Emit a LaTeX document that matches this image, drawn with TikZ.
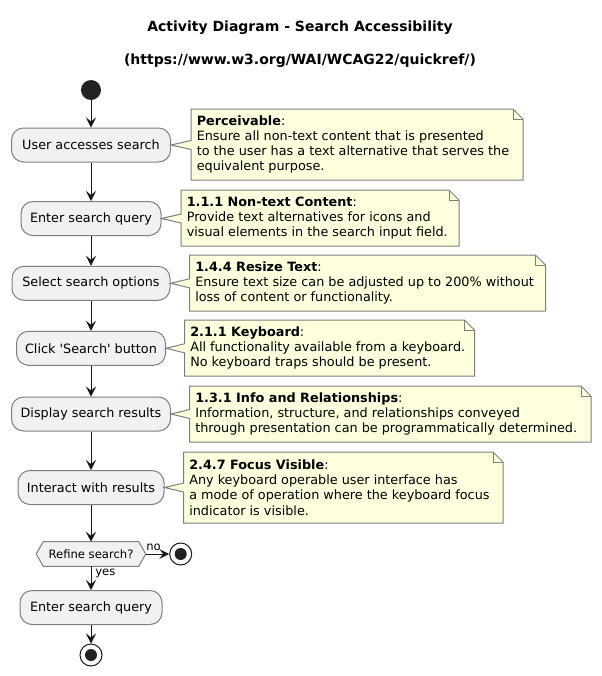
\documentclass[tikz,border=0pt]{standalone}
\usepackage{fontspec}
\setmainfont{DejaVu Sans}
\usetikzlibrary{arrows.meta,calc}
\definecolor{actfill}{HTML}{F1F1F1}
\definecolor{notefill}{HTML}{FEFFDD}
\definecolor{linec}{HTML}{181818}
\definecolor{borderc}{HTML}{7F7F7F}
\definecolor{startc}{HTML}{222222}
\newcommand\drawnote[6]{%
  \filldraw[notebg] (#1,#2) -- (#3-10,#2) -- (#3,#2+10) -- (#3,#4) -- (#1,#4)
    -- (#1,#6+4.5) -- (#5.east) -- (#1,#6-4.5) -- cycle;
  \draw[notebg,fill=none] (#3-10,#2) -- (#3-10,#2+10) -- (#3,#2+10);}
\begin{document}
\begin{tikzpicture}[x=0.75pt,y=-0.75pt,
  act/.style={rectangle, rounded corners=9pt, fill=actfill, draw=borderc, line width=0.75pt,
    minimum height=25.5pt, inner xsep=2pt, font=\fontsize{9.6}{11}\selectfont},
  dec/.style={rectangle, draw=none, minimum width=81.75pt, minimum height=18pt, inner sep=0pt,
    font=\fontsize{8.7}{10}\selectfont},
  hexa/.style={fill=actfill, draw=borderc, line width=0.75pt},
  flow/.style={draw=linec, line width=0.75pt, -{Stealth[length=7.5pt,width=7.5pt,inset=3pt]}},
  notebg/.style={fill=notefill, draw=borderc, line width=0.75pt, line join=miter},
  notetxt/.style={anchor=west, inner sep=0pt, align=left, font=\fontsize{9.6}{11.4}\selectfont},
  lbl/.style={inner sep=0pt, font=\fontsize{8.7}{10}\selectfont},
  ttl/.style={inner sep=0pt, font=\fontsize{10.5}{12}\selectfont\bfseries},
  startnode/.style={circle, fill=startc, minimum size=15pt, inner sep=0pt},
  endnode/.style={circle, draw=linec, line width=0.75pt, fill=white, minimum size=16.5pt, inner sep=0pt,
    path picture={\fill[startc] (path picture bounding box.center) circle (4.5pt);}}
]
\useasboundingbox[fill=white] (0,0) rectangle (601,676);

\node[ttl] (t1) at (300,28) {Activity Diagram - Search Accessibility};
\node[ttl] (t2) at (300,61) {(https://www.w3.org/WAI/WCAG22/quickref/)};

\node[startnode] (start) at (91,90) {};
\node[act, minimum width=119.25pt] (b1) at (91,145) {User accesses search};
\node[act, minimum width=105pt] (b2) at (91,218.5) {Enter search query};
\node[act, minimum width=118.5pt] (b3) at (91,283.3) {Select search options};
\node[act, minimum width=111.75pt] (b4) at (91,348.3) {Click \textquotesingle Search\textquotesingle\ button};
\node[act, minimum width=119.25pt] (b5) at (91,414) {Display search results};
\node[act, minimum width=109.5pt] (b6) at (91,487.5) {Interact with results};
\node[dec] (d) at (91,554) {};
\draw[hexa] (d.west) -- ([xshift=5.25pt]d.north west) -- ([xshift=-5.25pt]d.north east) -- (d.east)
  -- ([xshift=-5.25pt]d.south east) -- ([xshift=5.25pt]d.south west) -- cycle;
\node[dec] (dtext) at (d) {Refine search?};
\node[act, minimum width=106.5pt] (b7) at (91,607.5) {Enter search query};
\node[endnode] (e1) at (180.7,554) {};
\node[endnode] (e2) at (91,655) {};

\draw[flow] (start) -- (b1);
\draw[flow] (b1) -- (b2);
\draw[flow] (b2) -- (b3);
\draw[flow] (b3) -- (b4);
\draw[flow] (b4) -- (b5);
\draw[flow] (b5) -- (b6);
\draw[flow] (b6) -- (d);
\draw[flow] (d) -- (b7);
\draw[flow] (b7) -- (e2);
\draw[flow] (d.east) -- (e1);
\node[lbl, anchor=west] (lno) at (146,547.5) {no};
\node[lbl, anchor=west] (lyes) at (95,573) {yes};

\drawnote{191}{109}{523}{180}{b1}{145}
\node[notetxt] (n1) at (196.5,144.5) {\textbf{Perceivable}:\\Ensure all non-text content that is presented\\to the user has a text alternative that serves the\\equivalent purpose.};
\drawnote{181}{190}{459}{246}{b2}{218.5}
\node[notetxt] (n2) at (186.5,218) {\textbf{1.1.1 Non-text Content}:\\Provide text alternatives for icons and\\visual elements in the search input field.};
\drawnote{189.5}{255}{545.5}{311}{b3}{283.3}
\node[notetxt] (n3) at (195,283) {\textbf{1.4.4 Resize Text}:\\Ensure text size can be adjusted up to 200\% without\\loss of content or functionality.};
\drawnote{184.5}{320}{474.5}{376}{b4}{348.3}
\node[notetxt] (n4) at (190,348) {\textbf{2.1.1 Keyboard}:\\All functionality available from a keyboard.\\No keyboard traps should be present.};
\drawnote{189.5}{386}{591}{442}{b5}{414}
\node[notetxt] (n5) at (195,414) {\textbf{1.3.1 Info and Relationships}:\\Information, structure, and relationships conveyed\\through presentation can be programmatically determined.};
\drawnote{183.5}{452}{503}{523}{b6}{487.5}
\node[notetxt] (n6) at (189,487.5) {\textbf{2.4.7 Focus Visible}:\\Any keyboard operable user interface has\\a mode of operation where the keyboard focus\\indicator is visible.};
\end{tikzpicture}
\end{document}
